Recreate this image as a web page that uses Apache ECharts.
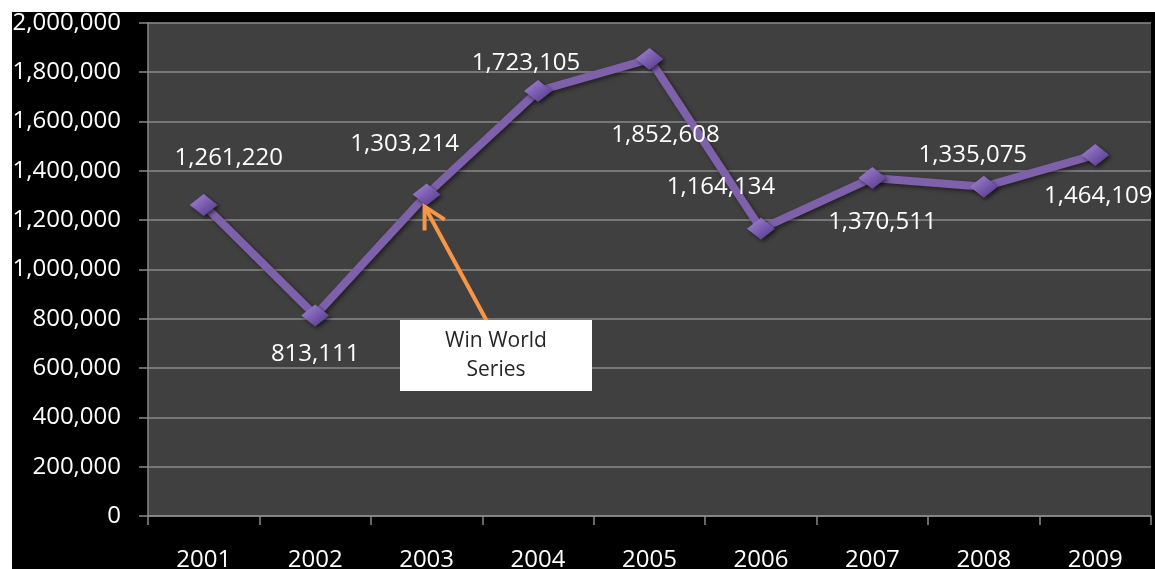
<!DOCTYPE html>
<html>
<head>
<meta charset="utf-8">
<script src="https://cdn.jsdelivr.net/npm/echarts@6/dist/echarts.min.js"></script>
<style>
html,body{margin:0;padding:0;background:#fff;}
#c{width:1155px;height:569px;}
</style>
</head>
<body>
<div id="c"></div>
<script>
const years = ['2001','2002','2003','2004','2005','2006','2007','2008','2009'];
const attendance = [1261220, 813111, 1303214, 1723105, 1852608, 1164134, 1370511, 1335075, 1464109];
const yTicks = {min: 0, max: 2000000, interval: 200000};
const annotationText = 'Win World\nSeries';
const annotationYearIndex = 2;
// label placement (pixel offsets from each point)
const labelOffsets = [[25,-47],[0,39],[-22,-50],[-12,-28],[16,76],[-40,-42],[10,44],[-11,-32],[3,41]];

const FONT = '"Open Sans", "Noto Sans", sans-serif';
const chart = echarts.init(document.getElementById('c'));

const seriesData = attendance.map((v, i) => ({
  value: v,
  label: {offset: labelOffsets[i]}
}));

const option = {
  backgroundColor: '#ffffff',
  animation: false,
  grid: {left: 148, right: 4, top: 22.7, bottom: 53, show: true, backgroundColor: '#404040', borderWidth: 0,
    containLabel: false, outerBoundsMode: 'none'},
  xAxis: {
    type: 'category',
    data: years,
    boundaryGap: true,
    axisLine: {show: true, lineStyle: {color: '#8a8a8a', width: 1.5}},
    axisTick: {show: true, length: 9, lineStyle: {color: '#8a8a8a', width: 1.5}},
    axisLabel: {color: '#ffffff', fontFamily: FONT, fontSize: 24, margin: 32},
    splitLine: {show: false}
  },
  yAxis: {
    type: 'value',
    min: yTicks.min, max: yTicks.max, interval: yTicks.interval,
    axisLine: {show: true, lineStyle: {color: '#8a8a8a', width: 1.5}},
    axisTick: {show: true, length: 9, lineStyle: {color: '#8a8a8a', width: 1.5}},
    axisLabel: {color: '#ffffff', fontFamily: FONT, fontSize: 24, margin: 27,
      formatter: v => v.toLocaleString('en-US')},
    splitLine: {show: true, lineStyle: {color: '#8a8a8a', width: 1.5}}
  },
  series: [{
    type: 'line',
    data: seriesData,
    symbol: 'diamond',
    symbolSize: [28, 22],
    z: 5,
    lineStyle: {color: '#7f61ab', width: 8, shadowColor: 'rgba(0,0,0,0.5)', shadowBlur: 4, shadowOffsetX: 2, shadowOffsetY: 2},
    itemStyle: {
      color: new echarts.graphic.LinearGradient(0, 0, 1, 1, [
        {offset: 0, color: '#a98ad6'},
        {offset: 0.5, color: '#7a5cb0'},
        {offset: 1, color: '#4f3480'}
      ]),
      borderWidth: 0,
      shadowColor: 'rgba(0,0,0,0.6)', shadowBlur: 4, shadowOffsetX: 2, shadowOffsetY: 2
    },
    label: {
      show: true, position: 'inside', color: '#ffffff', fontFamily: FONT, fontSize: 24,
      formatter: p => p.value.toLocaleString('en-US')
    }
  }]
};
chart.setOption(option);

// annotation anchored to the 2003 point
const tip = chart.convertToPixel({seriesIndex: 0}, [annotationYearIndex, attendance[annotationYearIndex]]);
const tx = tip[0] - 2, ty = tip[1] + 12;
const tail = [tx + 63, ty + 116];
const ang = Math.atan2(tail[1] - ty, tail[0] - tx);
const aLen = 24, aSpread = 0.5;
const a1 = [tx + aLen * Math.cos(ang - aSpread), ty + aLen * Math.sin(ang - aSpread)];
const a2 = [tx + aLen * Math.cos(ang + aSpread), ty + aLen * Math.sin(ang + aSpread)];

chart.setOption({
  graphic: [
    {type: 'rect', z: -100, silent: true, shape: {x: 12, y: 12, width: 1143, height: 557}, style: {fill: '#000000'}},
    {type: 'rect', z: 100, shape: {x: 400, y: 320, width: 192, height: 71}, style: {fill: '#ffffff'}},
    {type: 'text', z: 101, x: 496, y: 356, style: {text: annotationText, fill: '#262626', font: '21px ' + FONT, align: 'center', verticalAlign: 'middle', lineHeight: 29}},
    {type: 'polyline', z: 99, shape: {points: [tail, [tx, ty]]}, style: {stroke: '#f79646', lineWidth: 4, fill: null}},
    {type: 'polyline', z: 99, shape: {points: [a1, [tx, ty], a2]}, style: {stroke: '#f79646', lineWidth: 4, fill: null, lineJoin: 'miter'}}
  ]
});
</script>
</body>
</html>
